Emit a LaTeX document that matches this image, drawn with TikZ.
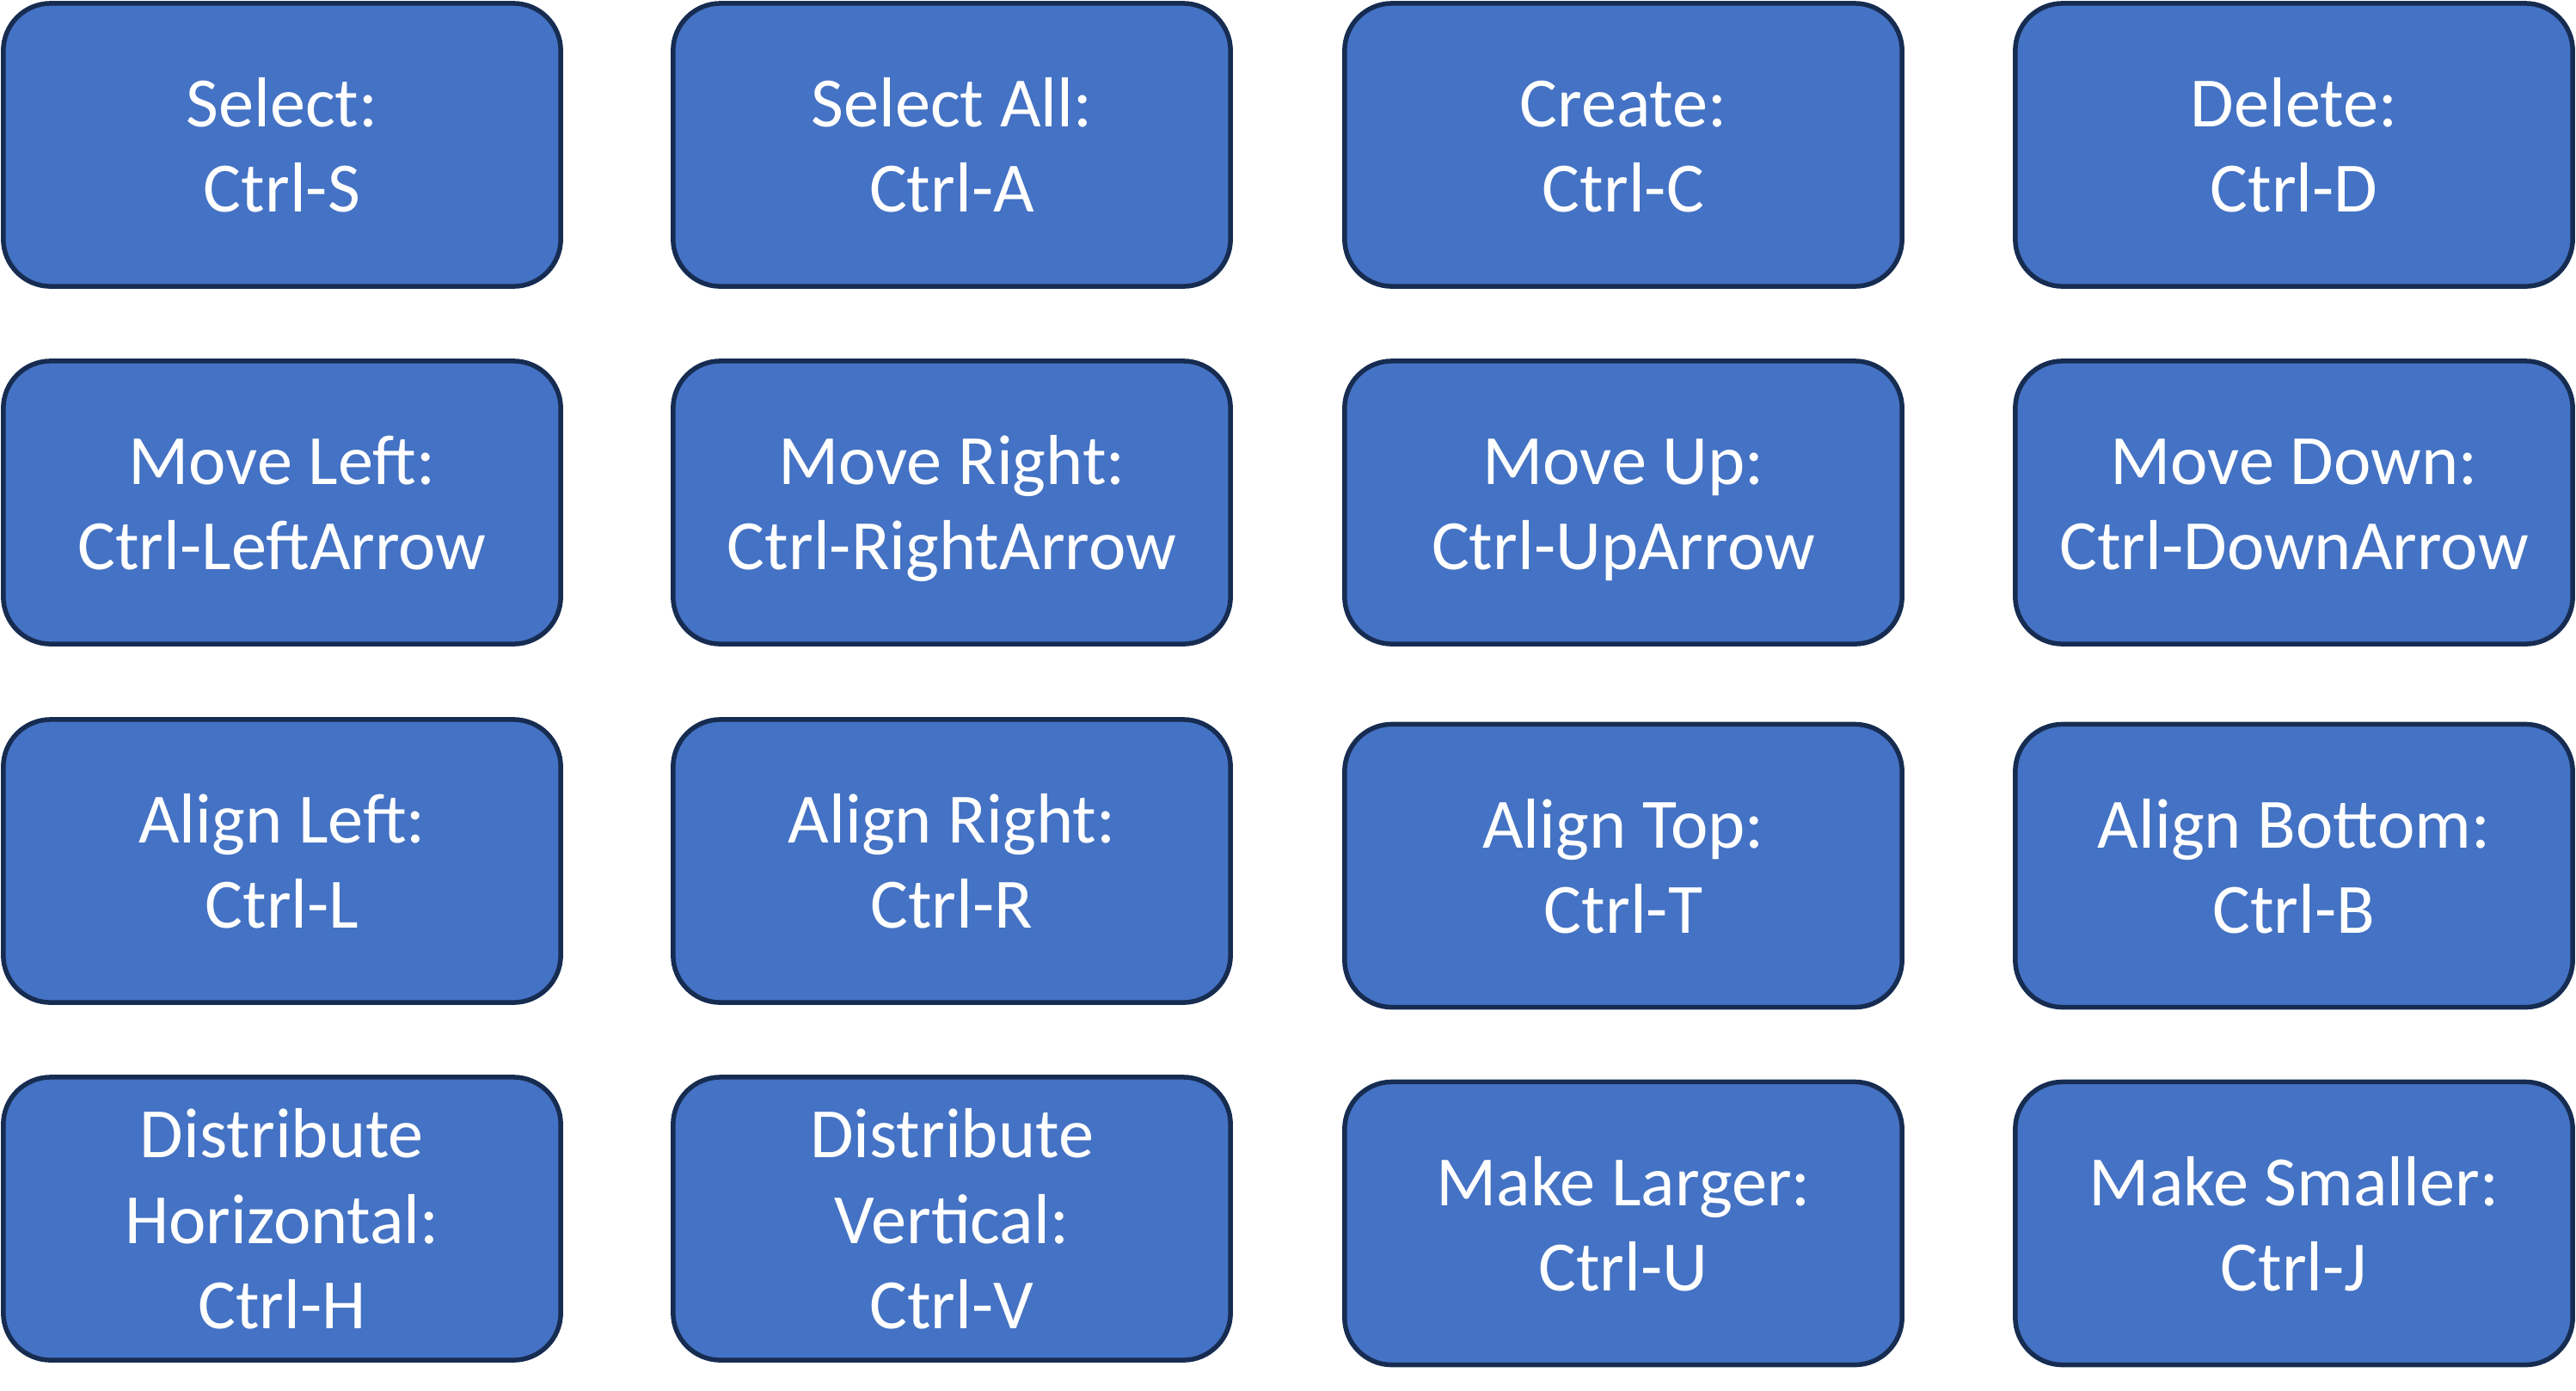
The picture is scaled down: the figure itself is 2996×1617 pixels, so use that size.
\documentclass[tikz,border=0pt]{standalone}
\usepackage{fontspec}
\setmainfont{Carlito}
\definecolor{boxfill}{HTML}{4472C4}
\definecolor{boxline}{HTML}{172C51}
\newcommand\kl[1]{\vphantom{l}\smash{#1}}
\newcommand\kt[2]{\kl{#1}\\\kl{#2}}
\begin{document}
\begin{tikzpicture}[x=0.01cm,y=-0.01cm,
  key/.style={draw=boxline, fill=boxfill, line width=0.055cm, rounded corners=0.55cm,
    minimum width=6.48cm, minimum height=3.29cm, inner sep=0pt, align=center,
    text=white, font=\fontsize{23.4}{28.2}\selectfont}]
\useasboundingbox (0,0) rectangle (2996,1617);
\node[key] (n1) at (328,168.5) {\kt{Select:}{Ctrl-S}};
\node[key] (n2) at (1107,168.5) {\kt{Select All:}{Ctrl-A}};
\node[key] (n3) at (1888,168.5) {\kt{Create:}{Ctrl-C}};
\node[key] (n4) at (2668,168.5) {\kt{Delete:}{Ctrl-D}};
\node[key] (n5) at (328,584.5) {\kt{Move Left:}{Ctrl-LeftArrow}};
\node[key] (n6) at (1107,584.5) {\kt{Move Right:}{Ctrl-RightArrow}};
\node[key] (n7) at (1888,584.5) {\kt{Move Up:}{Ctrl-UpArrow}};
\node[key] (n8) at (2668,584.5) {\kt{Move Down:}{Ctrl-DownArrow}};
\node[key] (n9) at (328,1001.5) {\kt{Align Left:}{Ctrl-L}};
\node[key] (n10) at (1107,1001.5) {\kt{Align Right:}{Ctrl-R}};
\node[key] (n11) at (1888,1007) {\kt{Align Top:}{Ctrl-T}};
\node[key] (n12) at (2668,1007) {\kt{Align Bottom:}{Ctrl-B}};
\node[key] (n13) at (328,1417.5) {\kl{Distribute}\\\kl{Horizontal:}\\\kl{Ctrl-H}};
\node[key] (n14) at (1107,1417.5) {\kl{Distribute}\\\kl{Vertical:}\\\kl{Ctrl-V}};
\node[key] (n15) at (1888,1423) {\kt{Make Larger:}{Ctrl-U}};
\node[key] (n16) at (2668,1423) {\kt{Make Smaller:}{Ctrl-J}};
\end{tikzpicture}
\end{document}
